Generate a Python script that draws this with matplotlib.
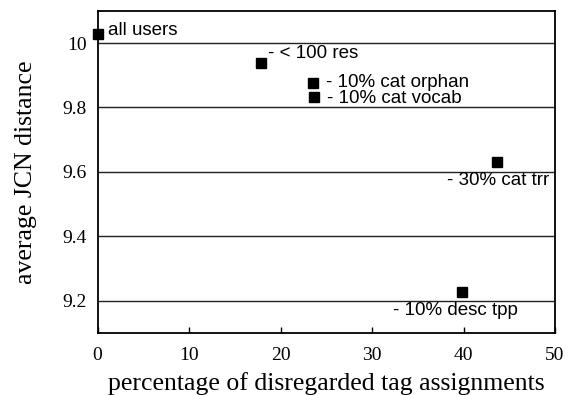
import matplotlib
matplotlib.use("Agg")
import matplotlib.pyplot as plt

# Data: share of disregarded tag assignments vs. average JCN distance
labels = ["all users", "- < 100 res", "- 10% cat orphan", "- 10% cat vocab",
          "- 30% cat trr", "- 10% desc tpp"]
pct_disregarded = [0.0, 17.9, 23.6, 23.7, 43.7, 39.8]
avg_jcn = [10.029, 9.937, 9.875, 9.832, 9.630, 9.226]

# label offsets in pixels (dx, dy) relative to the marker centre, baseline-aligned
label_offsets = [(10, -1.3), (7, 5), (13, -3.4), (12.3, -6), (-50.6, -22.8), (-68.6, -22.8)]

xticks = [0, 10, 20, 30, 40, 50]
yticks = [9.2, 9.4, 9.6, 9.8, 10.0]
ytick_labels = ["9.2", "9.4", "9.6", "9.8", "10"]

W, H, DPI = 569, 395, 100
fig = plt.figure(figsize=(W / DPI, H / DPI), dpi=DPI)
left, right, top, bottom = 97.5, 555, 10.8, 333
ax = fig.add_axes([left / W, 1 - bottom / H, (right - left) / W, (bottom - top) / H])

serif = ["Liberation Serif", "DejaVu Serif"]
sans = ["Liberation Sans", "DejaVu Sans"]

ax.set_xlim(0, 50)
ax.set_ylim(9.1, 10.1)

for y in yticks:
    ax.axhline(y, color="#222222", lw=1.0, zorder=1)

ax.plot(pct_disregarded, avg_jcn, ls="none", marker="s", ms=7.6,
        color="black", clip_on=False, zorder=3)

pt = 72 / DPI
for x, y, lab, (dx, dy) in zip(pct_disregarded, avg_jcn, labels, label_offsets):
    ax.annotate(lab, (x, y), xytext=(dx * pt, dy * pt), textcoords="offset points",
                ha="left", va="baseline", fontsize=13.5, family=sans,
                color="black", zorder=4)

ax.set_xticks(xticks)
ax.set_xticklabels([str(t) for t in xticks], family=serif, fontsize=14)
ax.set_yticks(yticks)
ax.set_yticklabels(ytick_labels, family=serif, fontsize=14)
ax.tick_params(axis="x", direction="in", length=4, width=1, pad=10, top=False)
ax.tick_params(axis="y", direction="in", length=0, pad=8)

for s in ax.spines.values():
    s.set_linewidth(1.3)
    s.set_color("black")

ax.set_xlabel("percentage of disregarded tag assignments", family=serif, fontsize=18.5, labelpad=6)
ax.set_ylabel("average JCN distance", family=serif, fontsize=18.5, labelpad=18)

fig.savefig("out.png", dpi=DPI)
